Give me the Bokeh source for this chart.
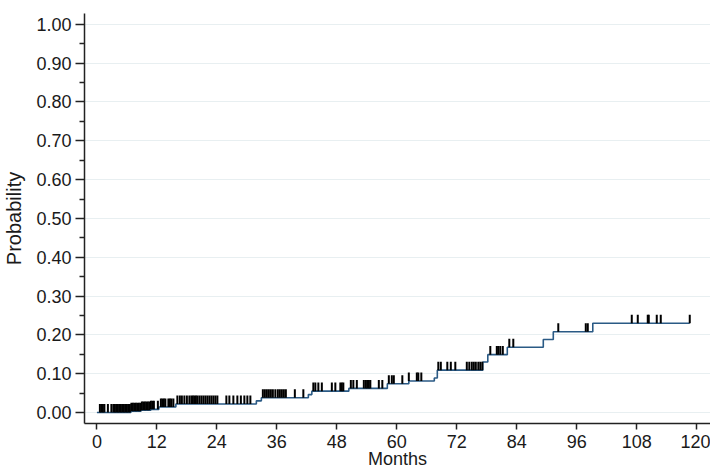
import numpy as np
from bokeh.plotting import figure
from bokeh.models import Range1d, FixedTicker, NumeralTickFormatter, ColumnDataSource
from bokeh.embed import file_html
from bokeh.resources import INLINE

# Step (cumulative incidence) curve: months at which the curve changes, and level after change
event_months = [0, 6.8, 8.8, 10.8, 12.4, 15.8, 31.9, 32.9, 42.3, 43.0, 50.4, 58.1, 62.4,
                67.5, 68.1, 77.2, 78.2, 82.1, 89.3, 91.3, 99.2, 118.6]
event_prob = [0.0, 0.003, 0.006, 0.008, 0.014, 0.022, 0.030, 0.038, 0.046, 0.055, 0.062, 0.074,
              0.081, 0.089, 0.109, 0.130, 0.149, 0.168, 0.188, 0.208, 0.230, 0.230]

# Censoring marks (months)
censor_months = [0.6, 0.9, 1.2, 1.5, 2.2, 2.9, 3.3, 3.6, 3.9, 4.2, 4.5, 4.8, 5.1, 5.4, 5.7, 6.0,
                 6.3, 6.6, 6.9, 7.2, 7.5, 7.8, 8.1, 8.4, 8.7, 9.0, 9.3, 9.6, 9.9, 10.2, 10.5,
                 10.8, 11.1, 11.4, 12.2, 12.8, 13.1, 13.4, 13.7, 14.3, 14.6, 14.9, 15.3, 16.1,
                 16.6, 17.0, 17.5, 18.0, 18.5, 18.9, 19.2, 19.5, 19.8, 20.1, 20.5, 20.9, 21.3,
                 21.7, 22.1, 22.5, 22.9, 23.3, 23.7, 24.1, 25.9, 26.5, 27.3, 28.1, 28.8, 29.5,
                 30.1, 30.7, 33.2, 33.6, 34.0, 34.4, 34.8, 35.2, 35.7, 36.2, 36.6, 37.0, 37.4,
                 37.8, 39.6, 41.3, 43.3, 43.7, 44.3, 45.0, 47.0, 47.7, 48.7, 49.0, 49.3, 50.8,
                 51.3, 52.0, 53.4, 53.8, 54.1, 54.4, 54.7, 56.4, 57.1, 58.4, 59.0, 59.4, 61.1,
                 62.4, 64.0, 64.3, 64.9, 68.3, 68.8, 70.1, 70.8, 71.7, 74.0, 74.5, 75.0, 75.4,
                 75.8, 76.3, 76.7, 77.1, 78.7, 80.0, 80.3, 80.7, 81.2, 82.5, 83.3, 92.3, 97.8,
                 98.2, 107.0, 108.2, 110.2, 110.4, 112.0, 112.8, 118.6]

x_ticks = [0, 12, 24, 36, 48, 60, 72, 84, 96, 108, 120]
y_ticks = [0.0, 0.1, 0.2, 0.3, 0.4, 0.5, 0.6, 0.7, 0.8, 0.9, 1.0]

FONT = "Liberation Sans"
LINE_COLOR = "#2a5a85"
TICK_H = 0.022

p = figure(frame_width=626, frame_height=410, output_backend="svg", toolbar_location=None,
           x_range=Range1d(-2.48, 122.75), y_range=Range1d(-0.0284, 1.028),
           min_border_left=81, min_border_right=0, min_border_top=13, min_border_bottom=0)
p.outline_line_color = None
p.background_fill_color = "white"
p.border_fill_color = "white"

# Step curve
p.step(event_months, event_prob, mode="after", line_color=LINE_COLOR, line_width=1.6)

# Censor marks sit on the curve level at each censoring time
em = np.array(event_months)
ep = np.array(event_prob)
idx = np.searchsorted(em, np.array(censor_months), side="right") - 1
lvl = ep[idx]
src = ColumnDataSource(dict(x=censor_months, y0=lvl, y1=lvl + TICK_H))
p.segment(x0="x", y0="y0", x1="x", y1="y1", source=src, line_color="black", line_width=2)

# Grid
p.xgrid.grid_line_color = None
p.ygrid.grid_line_color = "#e8eff1"
p.ygrid.grid_line_width = 1
p.ygrid.ticker = FixedTicker(ticks=y_ticks)

# Axes
p.xaxis.ticker = FixedTicker(ticks=x_ticks)
p.yaxis.ticker = FixedTicker(ticks=y_ticks, minor_ticks=[0.05 + 0.1 * i for i in range(10)])
p.yaxis.formatter = NumeralTickFormatter(format="0.00")
p.xaxis.axis_label = "Months"
p.yaxis.axis_label = "Probability"
for ax in (p.xaxis[0], p.yaxis[0]):
    ax.axis_line_color = "#222222"
    ax.axis_line_width = 1.5
    ax.major_tick_line_color = "#222222"
    ax.major_tick_line_width = 1.5
    ax.minor_tick_line_color = "#222222"
    ax.minor_tick_line_width = 1.5
    ax.major_label_text_font = FONT
    ax.major_label_text_font_size = "18px"
    ax.major_label_text_color = "#1a1a1a"
    ax.axis_label_text_font = FONT
    ax.axis_label_text_font_size = "18px"
    ax.axis_label_text_font_style = "normal"
    ax.axis_label_text_color = "#1a1a1a"
p.yaxis.axis_label_text_font_size = "20px"
p.yaxis.major_tick_out = 9
p.yaxis.major_tick_in = 0
p.yaxis.minor_tick_out = 5
p.yaxis.minor_tick_in = 0
p.xaxis.major_tick_out = 6
p.xaxis.major_tick_in = 0
p.xaxis.minor_tick_out = 0
p.xaxis.minor_tick_in = 0
p.yaxis.major_label_standoff = 4
p.xaxis.major_label_standoff = 5
p.yaxis.axis_label_standoff = 8
p.xaxis.axis_label_standoff = -2

open("out.html", "w").write(file_html(p, INLINE))
